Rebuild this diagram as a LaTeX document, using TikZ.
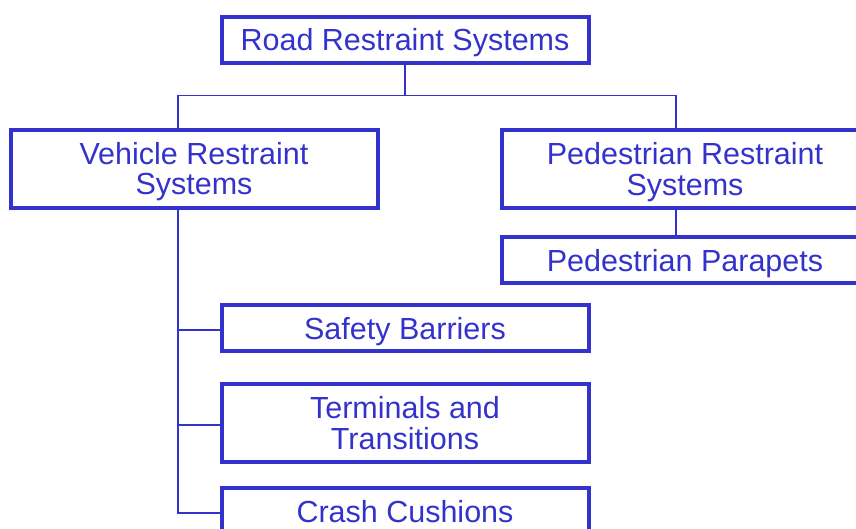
\documentclass[tikz,border=0pt]{standalone}
\usepackage{fontspec}
\setmainfont{Liberation Sans}
\definecolor{rrsblue}{HTML}{3333CC}
\tikzset{
  box/.style={draw=rrsblue, line width=4pt, text=rrsblue, align=center,
    inner sep=0pt, text depth=0pt, minimum width=367pt,
    font=\fontsize{30.5}{30.5}\selectfont},
  onebox/.style={box, minimum height=46pt},
  twobox/.style={box, minimum height=78pt},
  link/.style={draw=rrsblue, line width=1.5pt}
}
\begin{document}
\begin{tikzpicture}[x=1pt, y=-1pt]
  \clip (0,0) rectangle (856,529);
  % boxes
  \node[onebox] (rrs) at (405,39.7) {Road Restraint Systems};
  \node[twobox] (vrs) at (194,168.7) {Vehicle Restraint\\Systems};
  \node[twobox] (prs) at (685,169) {Pedestrian Restraint\\Systems};
  \node[onebox] (pp) at (685,260.4) {Pedestrian Parapets};
  \node[onebox] (sb) at (405,328) {Safety Barriers};
  \node[twobox] (tt) at (405,423) {Terminals and\\Transitions};
  \node[onebox] (cc) at (405,511) {Crash Cushions};
  % connectors
  \coordinate (bus) at (405,95.7);
  \coordinate (vx) at (178,0);
  \coordinate (px) at (676,0);
  \draw[link] (rrs.south) -- (bus);
  \draw[link] (bus) -| (vrs.north -| vx);
  \draw[link] (bus) -| (prs.north -| px);
  \draw[link] (prs.south -| px) -- (pp.north -| px);
  \foreach \n in {sb,tt,cc}
    \draw[link] (vrs.south -| vx) |- ([yshift=-2pt]\n.west);
\end{tikzpicture}
\end{document}
